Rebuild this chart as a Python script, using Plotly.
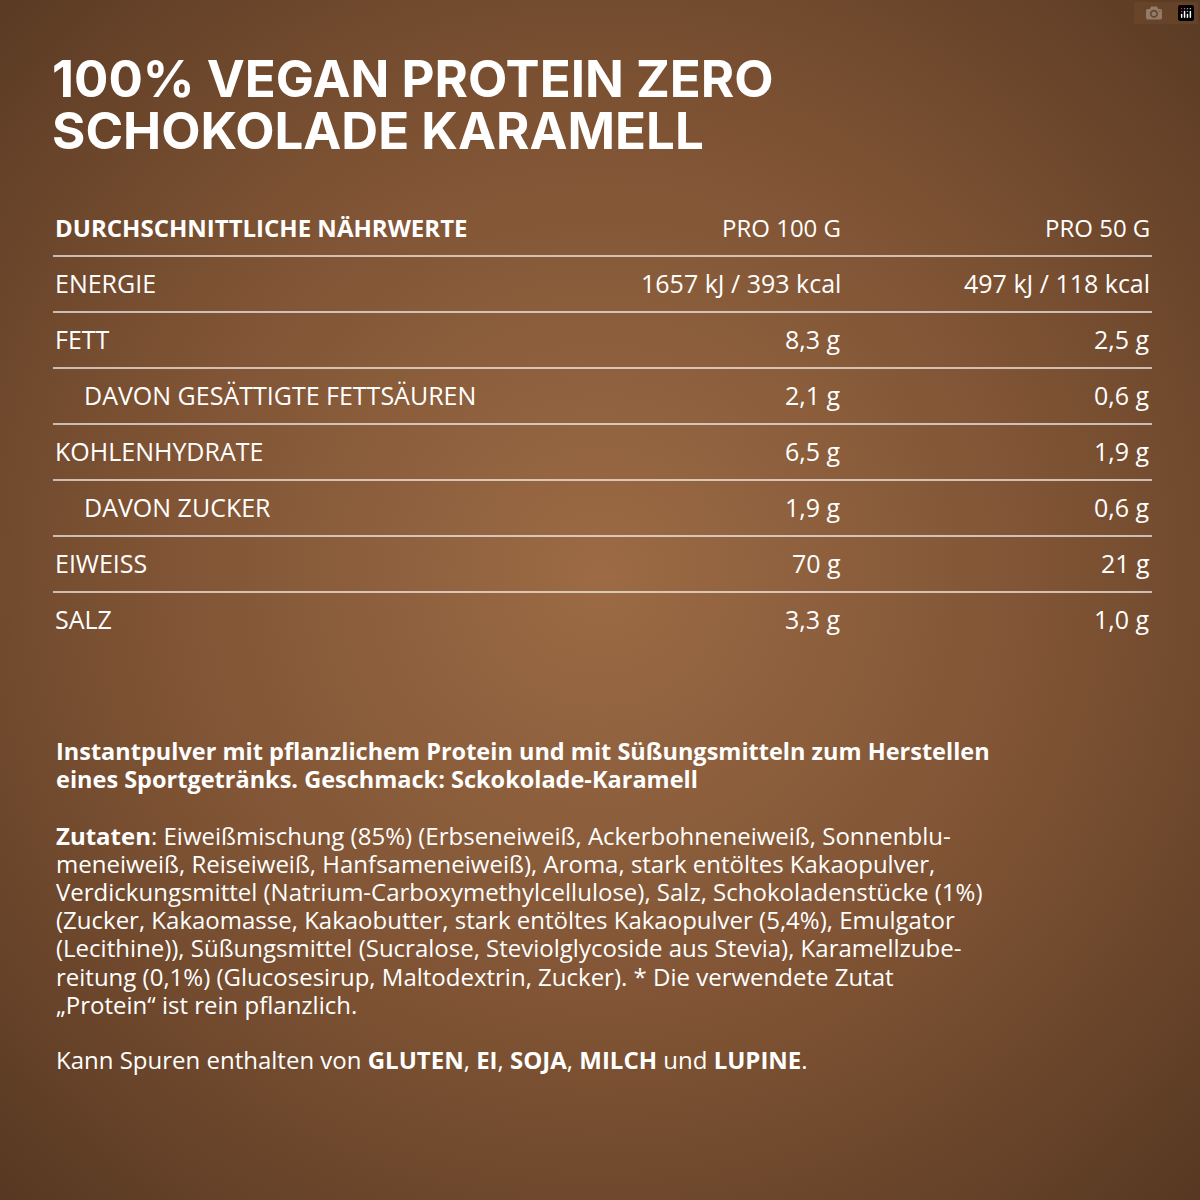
import plotly.graph_objects as go
import base64

title_lines = ["100% VEGAN PROTEIN ZERO", "SCHOKOLADE KARAMELL"]
header = ["DURCHSCHNITTLICHE NÄHRWERTE", "PRO 100 G", "PRO 50 G"]
labels = ["ENERGIE", "FETT", "DAVON GESÄTTIGTE FETTSÄUREN", "KOHLENHYDRATE",
          "DAVON ZUCKER", "EIWEISS", "SALZ"]
indent = [0, 0, 1, 0, 1, 0, 0]
per100 = ["1657 kJ / 393 kcal", "8,3 g", "2,1 g", "6,5 g", "1,9 g", "70 g", "3,3 g"]
per50 = ["497 kJ / 118 kcal", "2,5 g", "0,6 g", "1,9 g", "0,6 g", "21 g", "1,0 g"]
desc_lines = ["<b>Instantpulver mit pflanzlichem Protein und mit Süßungsmitteln zum Herstellen</b>",
              "<b>eines Sportgetränks. Geschmack: Sckokolade-Karamell</b>"]
ingr_lines = ["<b>Zutaten</b>: Eiweißmischung (85%) (Erbseneiweiß, Ackerbohneneiweiß, Sonnenblu-",
              "meneiweiß, Reiseiweiß, Hanfsameneiweiß), Aroma, stark entöltes Kakaopulver,",
              "Verdickungsmittel (Natrium-Carboxymethylcellulose), Salz, Schokoladenstücke (1%)",
              "(Zucker, Kakaomasse, Kakaobutter, stark entöltes Kakaopulver (5,4%), Emulgator",
              "(Lecithine)), Süßungsmittel (Sucralose, Steviolglycoside aus Stevia), Karamellzube-",
              "reitung (0,1%) (Glucosesirup, Maltodextrin, Zucker). * Die verwendete Zutat",
              "„Protein“ ist rein pflanzlich."]
allergen_line = "Kann Spuren enthalten von <b>GLUTEN</b>, <b>EI</b>, <b>SOJA</b>, <b>MILCH</b> und <b>LUPINE</b>."

svg = ('<svg xmlns="http://www.w3.org/2000/svg" width="1200" height="1200">'
       '<defs><radialGradient id="g" cx="50%" cy="48%" r="72%">'
       '<stop offset="0%" stop-color="#9c6b45"/><stop offset="55%" stop-color="#7d5233"/>'
       '<stop offset="100%" stop-color="#573822"/></radialGradient></defs>'
       '<rect width="1200" height="1200" fill="url(#g)"/></svg>')
src = "data:image/svg+xml;base64," + base64.b64encode(svg.encode()).decode()

F = "Open Sans"
fig = go.Figure()
fig.add_layout_image(source=src, xref="x", yref="y", x=0, y=0, sizex=1200, sizey=1200,
                     xanchor="left", yanchor="top", sizing="stretch", layer="below")
ann = []
def t(x, y, s, size=24, anchor="left", bold=False, fam=F):
    if bold:
        s = "<b>" + s + "</b>"
    ann.append(dict(x=x, y=y, xref="x", yref="y", text=s, showarrow=False, xanchor=anchor,
                    yanchor="middle", font=dict(family=fam, size=size, color="white")))

for i, s in enumerate(title_lines):
    t(50, 78 + i * 52, s, size=51, bold=True, fam="Inter")
t(53, 227, header[0], size=24, bold=True)
t(843, 227, header[1], size=24, anchor="right")
t(1152, 227, header[2], size=24, anchor="right")
for i in range(len(labels)):
    y = 283 + 56 * i
    t(53 + 29 * indent[i], y, labels[i], size=25)
    t(843, y, per100[i], size=25, anchor="right")
    t(1152, y, per50[i], size=25, anchor="right")
for i, s in enumerate(desc_lines):
    t(54, 751 + 28 * i, s, size=23.5)
for i, s in enumerate(ingr_lines):
    t(54, 835 + 28.2 * i, s, size=24)
t(54, 1059, allergen_line, size=24)

shapes = [dict(type="line", xref="x", yref="y", x0=53, x1=1152, y0=256 + 56 * k, y1=256 + 56 * k,
               line=dict(color="rgba(255,255,255,0.85)", width=1.5)) for k in range(7)]

fig.update_layout(width=1200, height=1200, margin=dict(l=0, r=0, t=0, b=0),
                  paper_bgcolor="#6e4a2e", plot_bgcolor="rgba(0,0,0,0)",
                  xaxis=dict(range=[0, 1200], visible=False, fixedrange=True),
                  yaxis=dict(range=[1200, 0], visible=False, fixedrange=True),
                  annotations=ann, shapes=shapes, showlegend=False)
fig.write_html("out.html", post_script="document.body.style.margin='0';document.body.style.overflow='hidden';")
